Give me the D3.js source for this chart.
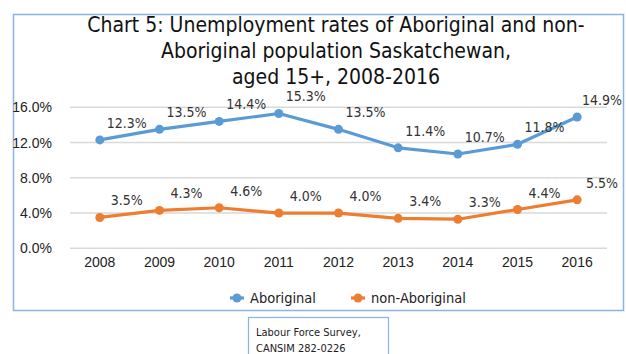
<!DOCTYPE html>
<html>
<head>
<meta charset="utf-8">
<script src="https://cdn.jsdelivr.net/npm/d3@7"></script>
<style>
  body { margin: 0; background: #fff; }
  svg { font-family: "DejaVu Sans Condensed", "DejaVu Sans", sans-serif; }
</style>
</head>
<body>
<div id="container"></div>
<script>
//chart data
var years = ["2008", "2009", "2010", "2011", "2012", "2013", "2014", "2015", "2016"];
var aboriginal = [12.3, 13.5, 14.4, 15.3, 13.5, 11.4, 10.7, 11.8, 14.9];
var nonAboriginal = [3.5, 4.3, 4.6, 4.0, 4.0, 3.4, 3.3, 4.4, 5.5];
var yTicks = [0, 4, 8, 12, 16];
var titleLines = ["Chart 5: Unemployment rates of Aboriginal and non-",
                  "Aboriginal population Saskatchewan,",
                  "aged 15+, 2008-2016"];
var seriesNames = ["Aboriginal", "non-Aboriginal"];
var seriesColors = ["#5B9BD5", "#ED7D31"];
var sourceLines = ["Labour Force Survey,", "CANSIM 282-0226"];

(function(){
    var width = 626, height = 354;

    var svg = d3.select("#container")
        .append("svg")
        .attr("width", width)
        .attr("height", height);

    //outer chart frame
    svg.append("rect")
        .attr("x", 13.5).attr("y", 14.5)
        .attr("width", 610).attr("height", 296)
        .attr("fill", "#fff")
        .attr("stroke", "#8DB3E2")
        .attr("stroke-width", 1.5);

    //title
    svg.selectAll(".title")
        .data(titleLines)
        .enter()
        .append("text")
        .attr("class", "title")
        .attr("x", 336)
        .attr("y", function(d, i){ return 32 + i * 26; })
        .attr("text-anchor", "middle")
        .attr("font-size", 21)
        .attr("fill", "#111")
        .text(function(d){ return d; });

    //scales
    var x = d3.scaleBand()
        .domain(years)
        .range([70, 607]);

    var y = d3.scaleLinear()
        .domain([0, 16])
        .range([248.3, 107.3]);

    //gridlines
    svg.selectAll(".grid")
        .data(yTicks)
        .enter()
        .append("line")
        .attr("x1", 70).attr("x2", 607)
        .attr("y1", function(d){ return y(d); })
        .attr("y2", function(d){ return y(d); })
        .attr("stroke", "#D9D9D9")
        .attr("stroke-width", 1.5);

    //y axis labels
    var yAxis = d3.axisLeft(y)
        .tickValues(yTicks)
        .tickSize(0)
        .tickPadding(0)
        .tickFormat(function(d){ return d3.format(".1f")(d) + "%"; });

    var gy = svg.append("g")
        .attr("transform", "translate(52,0)")
        .call(yAxis);
    gy.select(".domain").remove();
    gy.selectAll("text")
        .attr("font-size", 14)
        .attr("fill", "#222")
        .attr("font-family", null);

    //x axis labels
    var xAxis = d3.axisBottom(x).tickSize(0).tickPadding(0);
    var gx = svg.append("g")
        .attr("transform", "translate(0,257)")
        .call(xAxis);
    gx.select(".domain").remove();
    gx.selectAll("text")
        .attr("font-size", 14)
        .attr("fill", "#222")
        .attr("font-family", null);

    var series = [aboriginal, nonAboriginal];

    var line = d3.line()
        .x(function(d, i){ return x(years[i]) + x.bandwidth() / 2; })
        .y(function(d){ return y(d); });

    series.forEach(function(values, s){
        var g = svg.append("g");

        g.append("path")
            .datum(values)
            .attr("d", line)
            .attr("fill", "none")
            .attr("stroke", seriesColors[s])
            .attr("stroke-width", 3.2)
            .attr("stroke-linejoin", "round");

        g.selectAll("circle")
            .data(values)
            .enter()
            .append("circle")
            .attr("cx", function(d, i){ return x(years[i]) + x.bandwidth() / 2; })
            .attr("cy", function(d){ return y(d); })
            .attr("r", 4.5)
            .attr("fill", seriesColors[s]);

        //data labels
        g.selectAll(".lbl")
            .data(values)
            .enter()
            .append("text")
            .attr("class", "lbl")
            .attr("x", function(d, i){
                var cx = x(years[i]) + x.bandwidth() / 2 + 27;
                return Math.min(cx, 602);
            })
            .attr("y", function(d){ return y(d) - 12; })
            .attr("text-anchor", "middle")
            .attr("font-size", 14)
            .attr("fill", "#333")
            .text(function(d){ return d3.format(".1f")(d) + "%"; });
    });

    //legend
    var legendX = [230, 351];
    var legend = svg.selectAll(".legend")
        .data(seriesNames)
        .enter()
        .append("g")
        .attr("class", "legend")
        .attr("transform", function(d, i){ return "translate(" + legendX[i] + ",298)"; });

    legend.append("line")
        .attr("x1", 0).attr("x2", 14)
        .attr("stroke", function(d, i){ return seriesColors[i]; })
        .attr("stroke-width", 3.2);
    legend.append("circle")
        .attr("cx", 7).attr("r", 4.5)
        .attr("fill", function(d, i){ return seriesColors[i]; });
    legend.append("text")
        .attr("x", 20)
        .attr("dy", "0.35em")
        .attr("font-size", 14.5)
        .attr("fill", "#222")
        .text(function(d){ return d; });

    //source box
    svg.append("rect")
        .attr("x", 248.5).attr("y", 317.5)
        .attr("width", 140).attr("height", 40)
        .attr("fill", "#fff")
        .attr("stroke", "#8DB3E2")
        .attr("stroke-width", 1.2);

    svg.selectAll(".src")
        .data(sourceLines)
        .enter()
        .append("text")
        .attr("class", "src")
        .attr("x", 256)
        .attr("y", function(d, i){ return 336 + i * 16; })
        .attr("font-size", 11)
        .attr("fill", "#222")
        .text(function(d){ return d; });
})();
</script>
</body>
</html>
